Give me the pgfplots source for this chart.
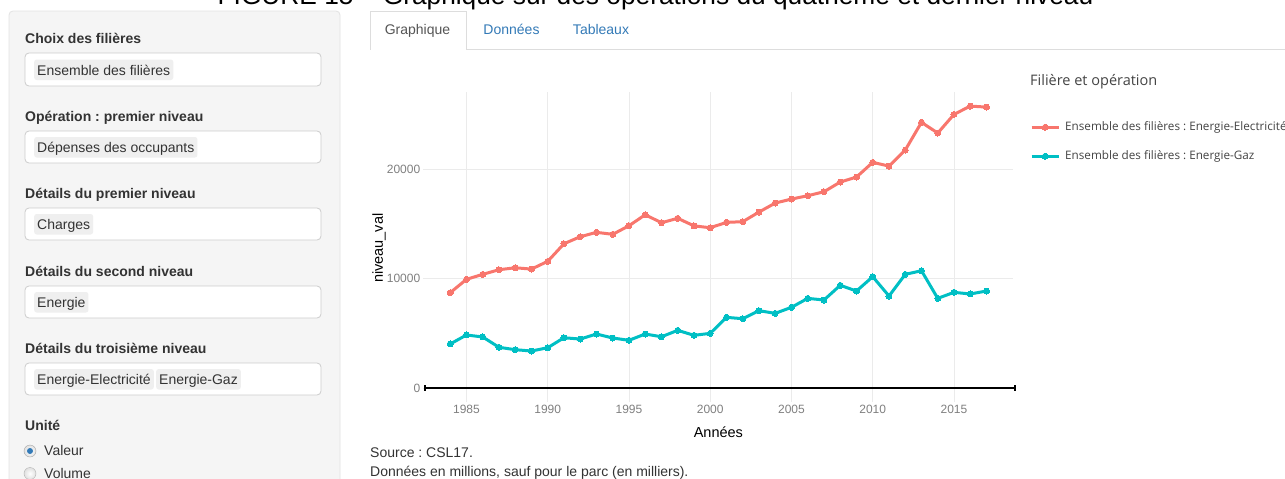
\documentclass[border=0pt]{standalone}
\usepackage{fontspec}
\setmainfont{Liberation Sans}
\newfontfamily\opensans{Open Sans}
\usepackage{pgfplots}
\pgfplotsset{compat=1.18}
\definecolor{elec}{HTML}{F8766D}
\definecolor{gaz}{HTML}{00BFC4}
\definecolor{gridgray}{HTML}{EBEBEB}
\definecolor{tickgray}{HTML}{808080}
\definecolor{sidebg}{HTML}{F5F5F5}
\definecolor{sideborder}{HTML}{E3E3E3}
\definecolor{boxborder}{HTML}{CCCCCC}
\definecolor{chipbg}{HTML}{EFEFEF}
\definecolor{labcol}{HTML}{333333}
\definecolor{tabblue}{HTML}{337AB7}
\definecolor{tabgray}{HTML}{555555}
\definecolor{tabline}{HTML}{DDDDDD}
\definecolor{leggray}{HTML}{444444}
\frenchspacing

\pgfplotstableread{
annee val
1984 8715
1985 9935
1986 10390
1987 10810
1988 10990
1989 10870
1990 11575
1991 13180
1992 13820
1993 14220
1994 14040
1995 14820
1996 15825
1997 15095
1998 15500
1999 14810
2000 14640
2001 15130
2002 15190
2003 16070
2004 16890
2005 17255
2006 17560
2007 17920
2008 18805
2009 19260
2010 20600
2011 20260
2012 21720
2013 24250
2014 23270
2015 24975
2016 25730
2017 25640
}\elec

\pgfplotstableread{
annee val
1984 4040
1985 4860
1986 4680
1987 3740
1988 3520
1989 3400
1990 3700
1991 4610
1992 4490
1993 4950
1994 4585
1995 4375
1996 4950
1997 4700
1998 5285
1999 4830
2000 5010
2001 6470
2002 6345
2003 7075
2004 6835
2005 7385
2006 8200
2007 8050
2008 9390
2009 8870
2010 10175
2011 8415
2012 10390
2013 10720
2014 8200
2015 8750
2016 8600
2017 8870
}\gaz

\begin{document}
\begin{tikzpicture}[x=1pt,y=1pt,
  lab/.style={anchor=base west, inner sep=0pt, font=\fontsize{14}{16}\selectfont\bfseries, text=labcol},
  box/.style={fill=white, draw=boxborder, rounded corners=4pt, line width=0.8pt},
  chip/.style={anchor=base west, fill=chipbg, rounded corners=2.5pt, inner xsep=3pt, inner ysep=0pt,
     text height=15.5pt, text depth=5pt, font=\fontsize{14}{16}\selectfont, text=labcol},
  txt/.style={anchor=base west, inner sep=0pt, font=\fontsize{14}{16}\selectfont, text=labcol}]
\useasboundingbox (0,0) rectangle (1285,-479);
\clip (0,0) rectangle (1285,-479);
\fill[white] (0,0) rectangle (1285,-479);

% title (cut at the top, as in the screenshot)
\node[anchor=base, inner sep=0pt, text=black] at (655.5,-4.5)
  {\fontsize{26.3}{30}\selectfont FIGURE 15 – Graphique sur des opérations du quatrième et dernier niveau};

% sidebar
\filldraw[fill=sidebg, draw=sideborder, rounded corners=4pt, line width=0.8pt] (9,-11) rectangle (340,-520);

\node[lab] at (25,-43) {Choix des filières};
\draw[box] (25,-53) rectangle (321,-86);
\node[chip] at (34,-75) {Ensemble des filières};

\node[lab] at (25,-121) {Opération : premier niveau};
\draw[box] (25,-131) rectangle (321,-163);
\node[chip] at (34,-152.5) {Dépenses des occupants};

\node[lab] at (25,-198) {Détails du premier niveau};
\draw[box] (25,-208) rectangle (321,-240);
\node[chip] at (34,-229.5) {Charges};

\node[lab] at (25,-276) {Détails du second niveau};
\draw[box] (25,-286) rectangle (321,-318);
\node[chip] at (34,-307.5) {Energie};

\node[lab] at (25,-353) {Détails du troisième niveau};
\draw[box] (25,-363) rectangle (321,-395);
\node[chip] at (34,-384.5) {Energie-Electricité};
\node[chip] at (156,-384.5) {Energie-Gaz};

\node[lab] at (25,-430) {Unité};
\shade[inner color=white, outer color=black!12, draw=black!35] (30,-451) circle (6pt);
\fill[tabblue] (30,-451) circle (3pt);
\node[txt] at (44,-455.5) {Valeur};
\shade[inner color=white, outer color=black!12, draw=black!30] (30,-473.5) circle (6pt);
\node[txt] at (44,-478) {Volume};

% tabs
\draw[tabline, line width=0.8pt] (370.7,-49.5) -- (370.7,-11) -- (466,-11) -- (466,-49.5) -- (1285,-49.5);
\node[anchor=base, inner sep=0pt, font=\fontsize{14}{16}\selectfont, text=tabgray] at (417.5,-34.5) {Graphique};
\node[anchor=base, inner sep=0pt, font=\fontsize{14}{16}\selectfont, text=tabblue] at (511.5,-34.5) {Données};
\node[anchor=base, inner sep=0pt, font=\fontsize{14}{16}\selectfont, text=tabblue] at (601,-34.5) {Tableaux};

% source notes
\node[txt] at (370,-457) {Source : CSL17.};
\node[txt] at (370,-476) {Données en millions, sauf pour le parc (en milliers).};

% legend title
\node[anchor=base west, inner sep=0pt, font=\opensans\fontsize{14.5}{16}\selectfont, text=leggray] at (1030,-85) {Filière et opération};

\begin{axis}[
  at={(423.4pt,-402.4pt)}, anchor=south west,
  scale only axis, width=589.9pt, height=310.4pt,
  xmin=1982.35, xmax=2018.65, ymin=-1286, ymax=27016,
  axis line style={draw=none}, major tick length=0pt,
  grid=major, grid style={color=gridgray, line width=0.9pt},
  xtick={1985,1990,...,2015}, ytick={0,10000,20000},
  scaled y ticks=false, scaled x ticks=false,
  /pgf/number format/assume math mode=true,
  /pgf/number format/1000 sep={},
  tick label style={font=\fontsize{12}{14}\selectfont, text=tickgray},
  yticklabel style={anchor=east, inner sep=0pt, xshift=-3pt},
  xticklabel style={anchor=north, inner sep=0pt, yshift=-3pt},
  xlabel={Années}, ylabel={niveau\_val},
  xlabel style={at={(axis description cs:0.5,-0.1115)}, anchor=base, inner sep=0pt,
     font=\fontsize{14.5}{16}\selectfont, text=black},
  ylabel style={at={(axis description cs:-0.0753,0.497)}, anchor=center, inner sep=0pt,
     font=\fontsize{14.5}{16}\selectfont, text=black},
  clip=false,
  legend style={at={(1.0283,0.9066)}, anchor=north west, draw=none, fill=none, inner sep=0pt,
     font=\opensans\fontsize{11.7}{14}\selectfont, text=leggray, row sep=17pt, column sep=5pt,
     nodes={inner sep=0pt, text height=9pt, text depth=3pt}},
  legend cell align=left,
  legend image code/.code={\draw[mark repeat=2,mark phase=2,#1] plot coordinates {(0pt,0pt) (13.5pt,0pt) (27pt,0pt)};},
]
\addplot[black, line width=1.8pt, mark=|, mark size=3pt, forget plot] coordinates {(1982.45,0) (2018.75,0)};
\addplot[elec, line width=3pt, mark=*, mark size=3pt, mark options={fill=elec, draw=elec, line width=0pt}] table[x=annee, y=val] {\elec};
\addlegendentry{Ensemble des filières : Energie-Electricité}
\addplot[gaz, line width=3pt, mark=*, mark size=3pt, mark options={fill=gaz, draw=gaz, line width=0pt}] table[x=annee, y=val] {\gaz};
\addlegendentry{Ensemble des filières : Energie-Gaz}
\end{axis}
\end{tikzpicture}
\end{document}
